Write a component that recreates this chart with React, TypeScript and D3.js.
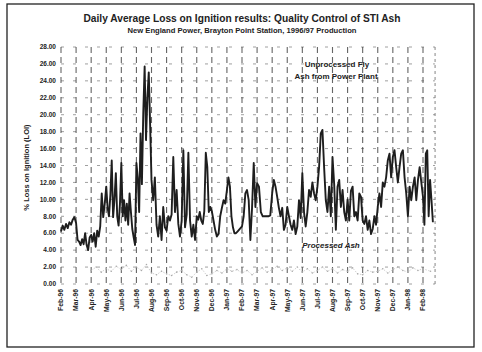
import React from "react";
import * as d3 from "d3";

// month categories on the x axis (equally spaced)
const months = [
  "Feb-96", "Mar-96", "Apr-96", "May-96", "Jun-96", "Jul-96", "Aug-96", "Sep-96",
  "Oct-96", "Nov-96", "Dec-96", "Jan-97", "Feb-97", "Mar-97", "Apr-97", "May-97",
  "Jun-97", "Jul-97", "Aug-97", "Sep-97", "Oct-97", "Nov-97", "Dec-97", "Jan-98", "Feb-98",
];

const yTicks = [0, 2, 4, 6, 8, 10, 12, 14, 16, 18, 20, 22, 24, 26, 28];

// unprocessed fly ash, daily LOI readings sampled through each month
const loiReadings = [
  [6.2, 6.9, 6.4, 7.1, 6.6, 7.3, 7.0, 7.6, 7.9],
  [7.2, 5.2, 5.0, 4.6, 5.3, 4.7, 6.0, 4.6, 4.0, 5.5],
  [5.8, 5.0, 6.0, 4.4, 6.3, 5.6, 6.8, 10.7, 7.9, 9.5],
  [11.5, 9.0, 8.0, 10.5, 14.6, 7.9, 10.0, 13.1, 8.0, 6.9, 9.5],
  [14.3, 8.0, 9.9, 7.5, 9.5, 7.0, 10.7, 8.5, 6.5, 5.5, 4.6],
  [14.3, 12.5, 8.5, 17.8, 11.8, 20.2, 25.7, 17.0, 22.0, 25.0, 18.8],
  [12.3, 9.9, 12.6, 7.0, 5.6, 8.0, 5.2, 9.1, 6.7],
  [6.3, 8.0, 7.5, 8.2, 15.0, 8.5, 11.1, 7.1, 5.6],
  [7.5, 15.8, 6.7, 8.2, 15.5, 7.5, 5.6, 7.0, 5.2],
  [8.0, 7.6, 8.5, 7.5, 7.1, 8.6, 15.5, 13.8, 8.5, 9.1],
  [8.6, 7.5, 6.4, 5.6, 5.9, 8.0, 9.0, 9.9, 9.5],
  [11.1, 12.6, 11.5, 8.0, 6.7, 6.0, 6.0, 6.2, 6.4, 6.6],
  [6.8, 8.0, 10.7, 11.1, 9.9, 5.2, 9.0, 14.3, 9.1],
  [11.9, 11.5, 8.5, 8.0, 8.0, 8.0, 8.0, 8.1],
  [10.7, 12.3, 11.5, 10.3, 9.0, 8.0, 9.0, 6.4, 7.0],
  [9.1, 8.0, 7.0, 6.4, 7.5, 5.9, 6.8, 9.9, 7.8],
  [13.1, 8.5, 6.8, 8.5, 11.1, 10.3, 12.0, 10.7, 9.9],
  [11.5, 13.8, 17.8, 18.2, 13.8, 9.9, 8.5, 11.5, 8.0],
  [15.0, 11.8, 6.4, 11.5, 12.3, 9.1, 11.1, 8.5, 7.5],
  [10.0, 7.5, 11.0, 11.5, 8.0, 8.5, 7.5, 10.7, 10.3],
  [7.5, 7.1, 8.0, 6.4, 7.5, 5.9, 6.5, 8.0, 7.0],
  [9.1, 10.7, 9.1, 12.0, 11.5, 12.6, 14.6, 15.4, 12.6],
  [15.0, 15.8, 13.8, 12.0, 13.8, 15.4, 15.8, 12.6, 10.7],
  [8.0, 11.5, 9.9, 11.5, 12.6, 9.9, 12.3, 13.8, 12.0],
  [10.3, 7.0, 15.4, 15.8, 8.0, 12.3, 9.9, 7.3],
];
const lastMonthCoverage = 0.75;

// processed ash, starting Apr-96 (month index 2)
const processedStart = 2;
const processedAsh = [
  [1.6, 2.0, 1.4], [1.8, 1.5, 2.1], [1.7, 2.2, 1.5], [2.0, 1.6, 2.3],
  [1.3, 1.1, 1.5], [1.2, 1.0, 1.4], [1.6, 1.1, 0.8], [1.4, 1.8, 1.0],
  [1.2, 1.6, 1.3], [1.8, 1.5, 1.7], [1.3, 1.6, 1.1], [1.5, 1.9, 1.4],
  [1.7, 2.1, 1.6], [1.9, 1.5, 2.0], [1.4, 1.8, 1.3], [1.6, 2.0, 1.5],
  [1.8, 1.3, 1.7], [1.5, 1.9, 1.2], [1.1, 1.6, 1.4], [1.5, 1.8, 1.3],
  [1.7, 2.0, 1.6], [1.4, 1.9, 1.6], [1.8, 1.5],
];

const font = "'Liberation Sans', Arial, sans-serif";

export default function App() {
  const width = 482;
  const height = 352;

  const x = d3.scaleLinear().domain([0, 24]).range([61, 423]);
  const y = d3.scaleLinear().domain([0, 28]).range([284, 47]);
  const xEnd = 24.8;

  const loiPoints = loiReadings.flatMap((vals, i) => {
    const span = i === loiReadings.length - 1 ? lastMonthCoverage : 1;
    return vals.map((v, j) => ({ m: i + (j / vals.length) * span, v }));
  });
  const procPoints = processedAsh.flatMap((vals, i) =>
    vals.map((v, j) => ({ m: processedStart + i + j / vals.length, v }))
  );

  const line = d3
    .line<{ m: number; v: number }>()
    .x((d) => x(d.m))
    .y((d) => y(d.v));

  return (
    <svg
      width={width}
      height={height}
      style={{ position: "absolute", left: 0, top: 0, background: "#fff" }}
    >
      <rect x={7} y={4} width={467} height={343} fill="none" stroke="#222" strokeWidth={1.3} />

      <text x={242} y={22} textAnchor="middle" fontFamily={font} fontWeight="bold" fontSize={10}
        textLength={317} lengthAdjust="spacingAndGlyphs" fill="#222">
        Daily Average Loss on Ignition results: Quality Control of STI Ash
      </text>
      <text x={242} y={33} textAnchor="middle" fontFamily={font} fontWeight="bold" fontSize={7}
        textLength={229} lengthAdjust="spacingAndGlyphs" fill="#222">
        New England Power, Brayton Point Station, 1996/97 Production
      </text>

      {/* horizontal grid */}
      {yTicks.map((t) => (
        <line key={"h" + t} x1={x(0)} x2={x(xEnd)} y1={y(t)} y2={y(t)}
          stroke="#888" strokeWidth={0.8} strokeDasharray="3,9" />
      ))}
      {/* vertical grid at each month */}
      {months.map((mo, i) => (
        <line key={"v" + mo} x1={x(i)} x2={x(i)} y1={y(28)} y2={y(0)}
          stroke="#333" strokeWidth={1.1} strokeDasharray="6,4" opacity={0.75} />
      ))}
      <line x1={x(xEnd)} x2={x(xEnd)} y1={y(28)} y2={y(0)} stroke="#666" strokeWidth={0.8} strokeDasharray="3,3" />

      {/* y tick labels */}
      {yTicks.map((t) => (
        <text key={"yt" + t} x={56} y={y(t)} dy="0.35em" textAnchor="end" fontFamily={font}
          fontWeight="bold" fontSize={6.5} fill="#222">
          {t.toFixed(2)}
        </text>
      ))}
      <text transform={`translate(29,${(y(0) + y(28)) / 2 + 2}) rotate(-90)`} textAnchor="middle"
        fontFamily={font} fontWeight="bold" fontSize={7.5} fill="#222">
        % Loss on Ignition (LOI)
      </text>

      {/* x tick labels */}
      {months.map((mo, i) => (
        <text key={"xt" + mo} transform={`translate(${x(i)},289) rotate(-90)`} textAnchor="end"
          dy="0.35em" fontFamily={font} fontWeight="bold" fontSize={6.8} fill="#222">
          {mo}
        </text>
      ))}

      {/* processed ash */}
      <path d={line(procPoints) ?? ""} fill="none" stroke="#bbb" strokeWidth={0.7} strokeDasharray="1.5,1.5" />
      {procPoints.map((d, i) => (
        <circle key={"p" + i} cx={x(d.m)} cy={y(d.v)} r={0.8} fill="#aaa" />
      ))}

      {/* unprocessed fly ash */}
      <path d={line(loiPoints) ?? ""} fill="none" stroke="#1e1e1e" strokeWidth={1.9} strokeLinejoin="round" />

      <text x={337} y={67} textAnchor="middle" fontFamily={font} fontWeight="bold" fontSize={8} fill="#222">
        Unprocessed  Fly
      </text>
      <text x={336} y={79} textAnchor="middle" fontFamily={font} fontWeight="bold" fontSize={8} fill="#222">
        Ash from Power Plant
      </text>
      <text x={331} y={248} textAnchor="middle" fontFamily={font} fontWeight="bold" fontStyle="italic"
        fontSize={8} fill="#222">
        Processed Ash
      </text>
    </svg>
  );
}
